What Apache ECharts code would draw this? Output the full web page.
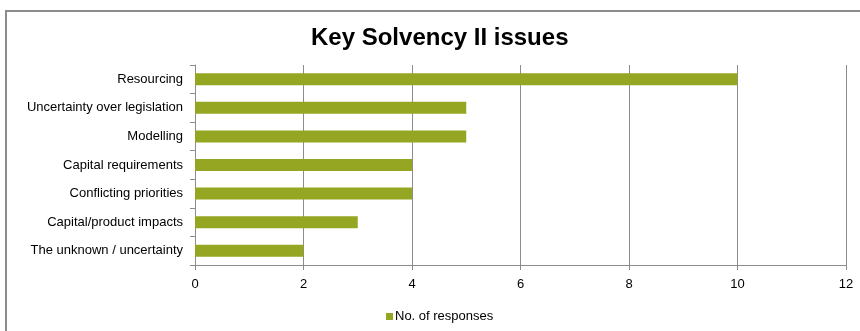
<!DOCTYPE html>
<html><head><meta charset="utf-8">
<script src="https://cdn.jsdelivr.net/npm/echarts@6/dist/echarts.min.js"></script>
<style>html,body{margin:0;padding:0;background:#fff}#c{width:860px;height:331px}</style>
</head><body><div id="c"></div>
<script>
const categories = ["The unknown / uncertainty","Capital/product impacts","Conflicting priorities","Capital requirements","Modelling","Uncertainty over legislation","Resourcing"];
const responses = [2,3,4,4,5,5,10];
const xTicks = [0,2,4,6,8,10,12];
const seriesName = "No. of responses";
const chart = echarts.init(document.getElementById('c'), null, {renderer:'canvas'});
chart.setOption({
  animation:false,
  textStyle:{fontFamily:'Liberation Sans, Arial, sans-serif'},
  graphic:[{type:'rect',shape:{x:6,y:11,width:870,height:340},style:{fill:'none',stroke:'#8c8c8c',lineWidth:2},silent:true,z:-1}],
  title:{text:'Key Solvency II issues',left:306,top:21,textStyle:{fontSize:24,fontWeight:'bold',color:'#000',fontFamily:'Liberation Sans, Arial, sans-serif'}},
  legend:{bottom:3,left:381,itemWidth:7,itemHeight:7,itemGap:4,icon:'rect',textStyle:{fontSize:13,color:'#000',padding:[0,0,0,-3]},data:[seriesName]},
  grid:{left:195,right:14,top:65,bottom:66,containLabel:false},
  xAxis:{type:'value',min:xTicks[0],max:xTicks[xTicks.length-1],interval:2,
    axisLine:{show:true,lineStyle:{color:'#8c8c8c',width:1}},
    axisTick:{show:true,length:5,lineStyle:{color:'#8c8c8c'}},
    axisLabel:{fontSize:13,color:'#000',margin:13},
    splitLine:{show:true,lineStyle:{color:'#8c8c8c',width:1}}},
  yAxis:{type:'category',data:categories,
    axisLine:{show:true,lineStyle:{color:'#8c8c8c'}},
    axisTick:{show:true,length:5,lineStyle:{color:'#8c8c8c'}},
    axisLabel:{fontSize:13,color:'#000',margin:12}},
  series:[{name:seriesName,type:'bar',data:responses,barWidth:12,itemStyle:{color:'#95a622'}}]
});
</script></body></html>
